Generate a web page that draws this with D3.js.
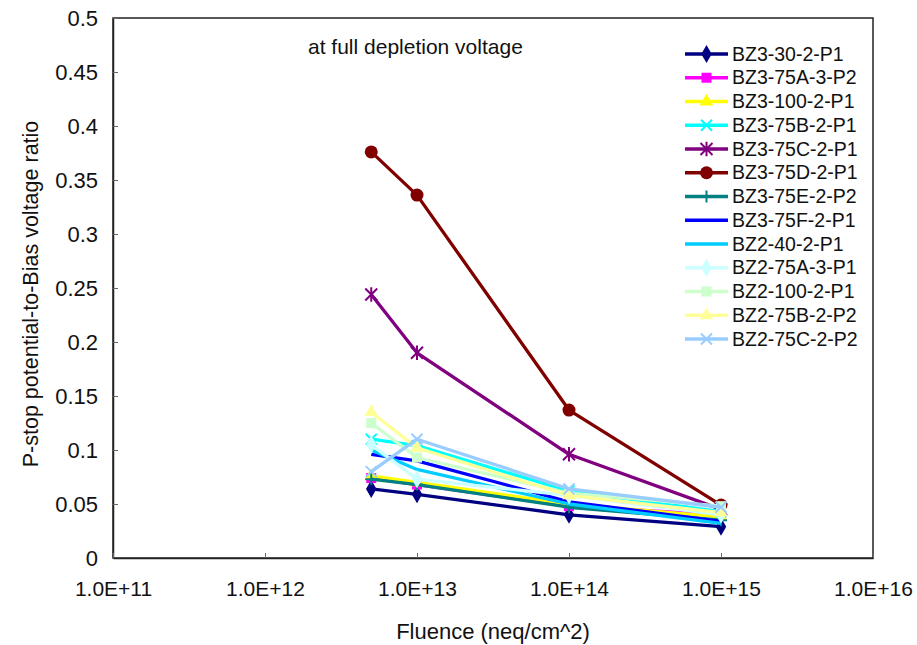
<!DOCTYPE html>
<html>
<head>
<meta charset="utf-8">
<script src="https://cdn.jsdelivr.net/npm/d3@7"></script>
<style>
  html, body { margin: 0; padding: 0; background: #fff; }
  svg { display: block; font-family: "Liberation Sans", Arial, sans-serif; }
</style>
</head>
<body>
<svg id="chart" width="917" height="645"></svg>
<script>
// Fluence points (neq/cm^2) at which every sample was measured
const fluences = [5e12, 1e13, 1e14, 1e15];

// Sample names, colours and marker shapes
const seriesNames = [
  "BZ3-30-2-P1", "BZ3-75A-3-P2", "BZ3-100-2-P1", "BZ3-75B-2-P1",
  "BZ3-75C-2-P1", "BZ3-75D-2-P1", "BZ3-75E-2-P2", "BZ3-75F-2-P1",
  "BZ2-40-2-P1", "BZ2-75A-3-P1", "BZ2-100-2-P1", "BZ2-75B-2-P2", "BZ2-75C-2-P2"
];
const seriesColors = [
  "#000080", "#ff00ff", "#ffff00", "#00ffff",
  "#800080", "#800000", "#008080", "#0000ff",
  "#00ccff", "#ccffff", "#ccffcc", "#ffff99", "#99ccff"
];
const seriesMarkers = [
  "diamond", "square", "triangle", "x",
  "star", "circle", "plus", "none",
  "none", "diamond", "square", "triangle", "x"
];

// P-stop potential-to-bias voltage ratio per sample, one value per fluence
const vBZ3_30_2_P1  = [0.064, 0.059, 0.040, 0.029];
const vBZ3_75A_3_P2 = [0.074, 0.068, 0.048, 0.040];
const vBZ3_100_2_P1 = [0.076, 0.070, 0.050, 0.038];
const vBZ3_75B_2_P1 = [0.110, 0.104, 0.062, 0.043];
const vBZ3_75C_2_P1 = [0.244, 0.190, 0.096, 0.045];
const vBZ3_75D_2_P1 = [0.376, 0.336, 0.137, 0.049];
const vBZ3_75E_2_P2 = [0.073, 0.068, 0.047, 0.035];
const vBZ3_75F_2_P1 = [0.096, 0.090, 0.052, 0.034];
const vBZ2_40_2_P1  = [0.100, 0.082, 0.050, 0.032];
const vBZ2_75A_3_P1 = [0.105, 0.073, 0.058, 0.040];
const vBZ2_100_2_P1 = [0.125, 0.093, 0.060, 0.048];
const vBZ2_75B_2_P2 = [0.135, 0.102, 0.058, 0.042];
const vBZ2_75C_2_P2 = [0.080, 0.110, 0.064, 0.047];

const seriesValues = [
  vBZ3_30_2_P1, vBZ3_75A_3_P2, vBZ3_100_2_P1, vBZ3_75B_2_P1,
  vBZ3_75C_2_P1, vBZ3_75D_2_P1, vBZ3_75E_2_P2, vBZ3_75F_2_P1,
  vBZ2_40_2_P1, vBZ2_75A_3_P1, vBZ2_100_2_P1, vBZ2_75B_2_P2, vBZ2_75C_2_P2
];

// Axis ticks
const xTicks = [1e11, 1e12, 1e13, 1e14, 1e15, 1e16];
const xTickLabels = ["1.0E+11", "1.0E+12", "1.0E+13", "1.0E+14", "1.0E+15", "1.0E+16"];
const yTicks = [0, 0.05, 0.1, 0.15, 0.2, 0.25, 0.3, 0.35, 0.4, 0.45, 0.5];
const yTickLabels = ["0", "0.05", "0.1", "0.15", "0.2", "0.25", "0.3", "0.35", "0.4", "0.45", "0.5"];

const series = seriesNames.map((name, i) => ({
  name,
  color: seriesColors[i],
  marker: seriesMarkers[i],
  points: fluences.map((f, j) => ({ x: f, y: seriesValues[i][j] }))
}));

const plot = { left: 113, right: 873, top: 18, bottom: 558 };
const svg = d3.select("#chart");

const x = d3.scaleLog().domain([1e11, 1e16]).range([plot.left, plot.right]);
const y = d3.scaleLinear().domain([0, 0.5]).range([plot.bottom, plot.top]);

const axisColor = "#222";
const textColor = "#111";

// Frame around the plot area
svg.append("rect")
  .attr("x", plot.left).attr("y", plot.top)
  .attr("width", plot.right - plot.left).attr("height", plot.bottom - plot.top)
  .attr("fill", "none").attr("stroke", axisColor).attr("stroke-width", 1.5);

// Y axis: inward ticks, labels on the left
const yAxis = d3.axisLeft(y)
  .tickValues(yTicks)
  .tickFormat((d, i) => yTickLabels[i])
  .tickSizeInner(-5).tickSizeOuter(0).tickPadding(15);
const gy = svg.append("g").attr("transform", `translate(${plot.left},0)`).call(yAxis);
gy.select(".domain").attr("stroke", axisColor).attr("stroke-width", 1.5);
gy.selectAll(".tick line").attr("stroke", "#666");
gy.selectAll(".tick text").attr("font-size", 22).attr("fill", textColor)
  .attr("font-family", "Liberation Sans, Arial, sans-serif");

// X axis: inward ticks, labels below
const xAxis = d3.axisBottom(x)
  .tickValues(xTicks)
  .tickFormat((d, i) => xTickLabels[i])
  .tickSizeInner(-5).tickSizeOuter(0).tickPadding(23);
const gx = svg.append("g").attr("transform", `translate(0,${plot.bottom})`).call(xAxis);
gx.select(".domain").attr("stroke", axisColor).attr("stroke-width", 1.5);
gx.selectAll(".tick line").attr("stroke", "#666");
gx.selectAll(".tick text").attr("font-size", 21).attr("fill", textColor)
  .attr("font-family", "Liberation Sans, Arial, sans-serif");

// Axis titles
svg.append("text")
  .attr("x", 493).attr("y", 639)
  .attr("text-anchor", "middle").attr("font-size", 22).attr("fill", textColor)
  .text("Fluence (neq/cm^2)");
svg.append("text")
  .attr("transform", "translate(38,294) rotate(-90)")
  .attr("text-anchor", "middle").attr("font-size", 21.5).attr("fill", textColor)
  .text("P-stop potential-to-Bias voltage ratio");

// In-plot caption
svg.append("text")
  .attr("x", 308).attr("y", 54)
  .attr("font-size", 21).attr("fill", textColor)
  .text("at full depletion voltage");

// Marker drawing
function drawMarker(g, type, color, cx, cy) {
  switch (type) {
    case "diamond":
      g.append("path").attr("d", d3.symbol(d3.symbolDiamond, 95)())
        .attr("transform", `translate(${cx},${cy})`).attr("fill", color);
      break;
    case "square":
      g.append("rect").attr("x", cx - 5).attr("y", cy - 5)
        .attr("width", 10).attr("height", 10).attr("fill", color);
      break;
    case "triangle":
      g.append("path").attr("d", d3.symbol(d3.symbolTriangle, 80)())
        .attr("transform", `translate(${cx},${cy})`).attr("fill", color);
      break;
    case "circle":
      g.append("circle").attr("cx", cx).attr("cy", cy).attr("r", 6.5).attr("fill", color);
      break;
    case "x": {
      const r = 5.5;
      g.append("path")
        .attr("d", `M${cx - r},${cy - r}L${cx + r},${cy + r}M${cx - r},${cy + r}L${cx + r},${cy - r}`)
        .attr("stroke", color).attr("stroke-width", 2).attr("fill", "none");
      break;
    }
    case "star": {
      const r = 6;
      g.append("path")
        .attr("d", `M${cx - r},${cy - r}L${cx + r},${cy + r}M${cx - r},${cy + r}L${cx + r},${cy - r}M${cx},${cy - r * 1.2}L${cx},${cy + r * 1.2}`)
        .attr("stroke", color).attr("stroke-width", 2).attr("fill", "none");
      break;
    }
    case "plus": {
      const r = 6;
      g.append("path")
        .attr("d", `M${cx - r},${cy}L${cx + r},${cy}M${cx},${cy - r}L${cx},${cy + r}`)
        .attr("stroke", color).attr("stroke-width", 2).attr("fill", "none");
      break;
    }
    default:
      break;
  }
}

// Data lines and markers
const line = d3.line().x(d => x(d.x)).y(d => y(d.y));
const dataLayer = svg.append("g");
series.forEach(s => {
  const g = dataLayer.append("g");
  g.append("path").datum(s.points)
    .attr("d", line)
    .attr("fill", "none").attr("stroke", s.color)
    .attr("stroke-width", 3.3).attr("stroke-linejoin", "round");
  s.points.forEach(p => drawMarker(g, s.marker, s.color, x(p.x), y(p.y)));
});

// Legend
const legend = svg.append("g").attr("transform", "translate(685,54)");
series.forEach((s, i) => {
  const row = legend.append("g").attr("transform", `translate(0,${i * 23.75})`);
  row.append("line").attr("x1", 0).attr("x2", 43).attr("y1", 0).attr("y2", 0)
    .attr("stroke", s.color).attr("stroke-width", 3.3);
  drawMarker(row, s.marker, s.color, 21.5, 0);
  row.append("text").attr("x", 47).attr("y", 6.5)
    .attr("font-size", 19.5).attr("fill", textColor)
    .text(s.name);
});
</script>
</body>
</html>
